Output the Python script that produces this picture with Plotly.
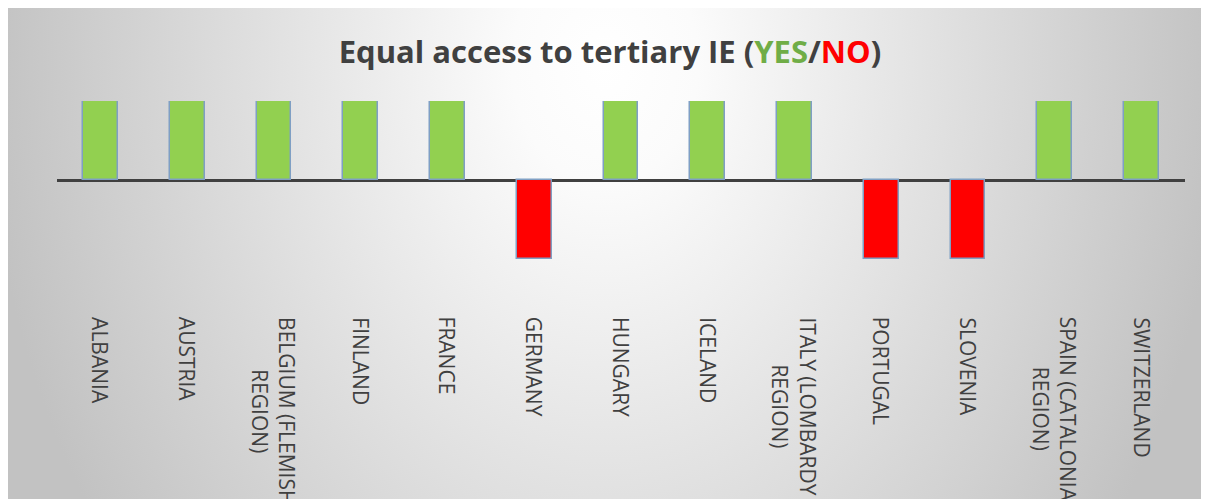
import base64
import plotly.graph_objects as go

categories = ["ALBANIA", "AUSTRIA", "BELGIUM (FLEMISH<br>REGION)", "FINLAND", "FRANCE",
              "GERMANY", "HUNGARY", "ICELAND", "ITALY (LOMBARDY<br>REGION)", "PORTUGAL",
              "SLOVENIA", "SPAIN (CATALONIA<br>REGION)", "SWITZERLAND"]
access = [1, 1, 1, 1, 1, -1, 1, 1, 1, -1, -1, 1, 1]

YES_COLOR = "#92D050"
NO_COLOR = "#FF0000"
colors = [YES_COLOR if v > 0 else NO_COLOR for v in access]

# page body has an 8px margin; the figure is offset by it
W, H = 1209, 491
L, R, T, B = 49, 32, 93, 240
pw, ph = W - L - R, H - T - B

svg = f'''<svg xmlns="http://www.w3.org/2000/svg" width="{W}" height="{H}" viewBox="0 0 {W} {H}" preserveAspectRatio="none">
<defs><radialGradient id="g" gradientUnits="userSpaceOnUse" cx="597" cy="55" r="620" gradientTransform="translate(597 55) scale(1 1.3) translate(-597 -55)">
<stop offset="0" stop-color="#ffffff"/><stop offset="0.15" stop-color="#fbfbfb"/><stop offset="1" stop-color="#c2c2c2"/></radialGradient></defs>
<rect x="0" y="0" width="{W}" height="{H}" fill="url(#g)"/></svg>'''
src = "data:image/svg+xml;base64," + base64.b64encode(svg.encode()).decode()

fig = go.Figure()
fig.add_trace(go.Bar(
    x=list(range(len(categories))), y=access, width=0.4,
    marker=dict(color=colors, line=dict(color="#7F9FC4", width=1.5)),
    hoverinfo="skip",
))

fig.add_layout_image(dict(
    source=src, xref="paper", yref="paper",
    x=-L / pw, y=(H - B) / ph, sizex=W / pw, sizey=H / ph,
    xanchor="left", yanchor="top", sizing="stretch", layer="below",
))

for i, name in enumerate(categories):
    fig.add_annotation(
        x=i, y=-1, xref="x", yref="y", yshift=-56,
        text=name, textangle=90, showarrow=False,
        xanchor="center", yanchor="top", align="center",
        font=dict(family="Open Sans", size=21, color="#404040"),
    )

fig.update_layout(
    width=W, height=H,
    margin=dict(l=L, r=R, t=T, b=B),
    paper_bgcolor="white", plot_bgcolor="rgba(0,0,0,0)",
    showlegend=False, bargap=0,
    title=dict(
        text="<b>Equal access to tertiary IE (<span style='color:#70AD47'>YES</span>/"
             "<span style='color:#FF0000'>NO</span>)</b>",
        font=dict(family="Open Sans", size=31, color="#404040"),
        x=(610 - 8) / W, xanchor="center", xref="container",
        y=1 - 44 / H, yanchor="middle", yref="container",
    ),
    xaxis=dict(
        range=[-0.5, len(categories) - 0.5],
        showticklabels=False, ticks="", showgrid=False, showline=False, zeroline=False,
    ),
    yaxis=dict(
        range=[-1, 1], showgrid=False, showticklabels=False, ticks="",
        zeroline=True, zerolinecolor="#404040", zerolinewidth=3,
    ),
)

fig.write_html("out.html")
